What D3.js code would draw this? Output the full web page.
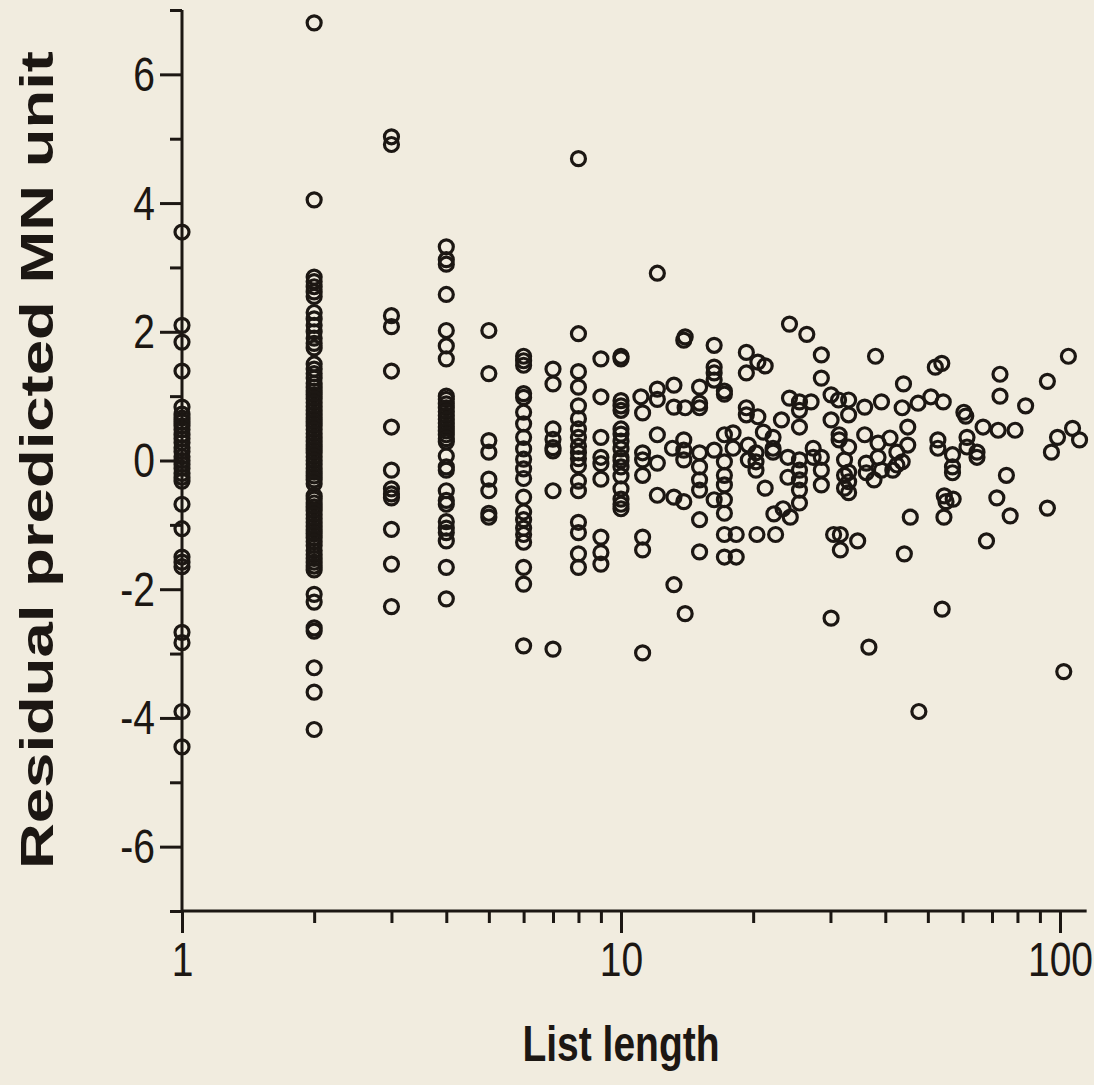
<!DOCTYPE html>
<html>
<head>
<meta charset="utf-8">
<script src="https://cdn.jsdelivr.net/npm/d3@7.9.0/dist/d3.min.js"></script>
<style>
  html, body { margin: 0; padding: 0; background: #f1ecdf; }
  svg { display: block; }
  text { font-family: "Liberation Sans", Arial, Helvetica, sans-serif; fill: #1c1713; }
</style>
</head>
<body>
<svg id="chart" width="1094" height="1085"></svg>
<script>
// ---------- data: residuals per short list length (1..10) ----------
const res1 = [3.55, 2.1, 1.84, 1.39, 0.83, 0.72, 0.66, 0.6, 0.54, 0.48, 0.4, 0.34, 0.28, 0.2, 0.14,
  0.06, 0.0, -0.06, -0.12, -0.2, -0.26, -0.32, -0.68, -1.06, -1.5, -1.58, -1.65, -2.67, -2.83, -3.9, -4.45];
const res2 = [6.8, 4.05, 2.85, 2.78, 2.7, 2.62, 2.55, 2.3, 2.2, 2.1, 2.0, 1.9, 1.82, 1.75, 1.5, 1.42,
  1.35, 1.28, 1.2, 1.14, 1.08, 1.02, 0.96, 0.9, 0.84, 0.78, 0.72, 0.66, 0.6, 0.54, 0.48, 0.42, 0.36,
  0.3, 0.24, 0.18, 0.12, 0.06, 0.0, -0.06, -0.12, -0.18, -0.24, -0.3, -0.36, -0.55, -0.6, -0.66,
  -0.72, -0.78, -0.84, -0.9, -0.96, -1.02, -1.08, -1.14, -1.2, -1.26, -1.32, -1.4, -1.46, -1.52,
  -1.58, -1.64, -1.7, -2.08, -2.2, -2.6, -2.65, -3.22, -3.6, -4.18];
const res3 = [5.03, 4.91, 2.25, 2.08, 1.39, 0.52, -0.15, -0.44, -0.52, -0.58, -1.07, -1.61, -2.27];
const res4 = [3.32, 3.12, 3.05, 2.58, 2.02, 1.78, 1.58, 1.0, 0.95, 0.88, 0.82, 0.76, 0.7, 0.64,
  0.58, 0.52, 0.46, 0.4, 0.34, 0.29, 0.07, -0.1, -0.15, -0.47, -0.62, -0.68, -0.95, -1.05, -1.12,
  -1.25, -1.66, -2.15];
const res5 = [2.02, 1.35, 0.31, 0.13, -0.29, -0.47, -0.82, -0.88];
const res6 = [1.62, 1.55, 1.48, 1.04, 0.98, 0.75, 0.57, 0.36, 0.18, 0.02, -0.13, -0.28, -0.57,
  -0.8, -0.92, -1.05, -1.15, -1.27, -1.66, -1.92, -2.88];
const res7 = [1.42, 1.19, 0.49, 0.33, 0.2, 0.15, -0.47, -2.93];
const res8 = [4.69, 1.97, 1.38, 1.14, 0.85, 0.65, 0.49, 0.36, 0.22, 0.12, 0.03, -0.08, -0.32,
  -0.47, -0.96, -1.12, -1.45, -1.66];
const res9 = [1.58, 0.99, 0.36, 0.05, -0.05, -0.29, -1.19, -1.43, -1.61];
const res10 = [1.62, 1.58, 0.93, 0.85, 0.78, 0.49, 0.41, 0.3, 0.18, 0.05, 0.0, -0.1, -0.24,
  -0.44, -0.6, -0.68, -0.75];
const shortColumns = [res1, res2, res3, res4, res5, res6, res7, res8, res9, res10];

// ---------- data: longer lists (length, residual) ----------
const longLength = [
  12.1, 13.9, 14.0, 11.1, 12.1, 13.2, 15.1, 11.2, 12.1, 13.2, 14.0, 15.1, 15.1, 11.2, 11.2, 12.1,
  12.1, 13.1, 13.9, 13.9, 13.9, 15.1, 15.1, 15.1, 15.1, 11.2, 12.1, 13.2, 13.9, 15.1, 11.2, 11.2,
  15.1, 13.2, 14.0, 11.2,
  16.3, 16.3, 16.3, 16.3, 17.2, 17.2, 16.3, 16.3, 17.2, 17.2, 17.2, 17.2, 17.2, 17.2, 17.2, 17.2,
  18.0, 18.0, 18.3, 18.3, 19.3, 19.3, 19.3, 19.3, 19.5, 19.5, 20.5, 21.3, 20.5, 20.3, 20.3, 20.3,
  20.4, 21.1, 21.3, 22.2, 22.2, 22.2, 22.5, 22.3, 23.2, 23.4, 24.0, 24.0, 24.2, 24.2, 24.3, 25.5,
  25.5, 25.5, 25.5, 25.5, 25.5, 25.5, 25.5, 26.5, 27.1, 27.4, 27.4, 28.6, 28.6, 28.6, 28.6, 28.6,
  30.1, 30.1, 30.5, 31.6, 31.6, 30.1, 31.3, 31.4, 31.4, 32.3, 32.3, 32.3, 34.6,
  38.0, 52.0, 53.8, 73.0, 73.0, 93.6, 104.5, 44.0, 83.5, 33.0, 35.9, 39.2, 43.7, 47.5, 50.8, 54.2,
  60.4, 61.0, 66.8, 72.3, 79.0, 98.7, 106.8, 110.8, 95.6, 33.0, 45.0, 45.0, 43.7, 35.9, 38.5, 38.5,
  41.0, 42.5, 42.5, 36.2, 36.2, 39.2, 37.7, 41.6, 33.0, 33.0, 33.0, 33.0, 52.7, 52.7, 56.9, 56.9,
  56.9, 61.4, 61.4, 64.7, 64.7, 75.5, 54.5, 57.1, 55.0, 54.4, 71.8, 77.0, 93.6, 45.6, 68.0, 44.2,
  53.9, 36.7, 47.7, 102.0
];
const longResidual = [
  2.91, 1.87, 1.92, 0.99, 1.11, 1.17, 1.14, 0.74, 0.95, 0.83, 0.82, 0.89, 0.82, 0.12, 0.01, 0.4,
  -0.04, 0.19, 0.32, 0.16, 0.01, 0.12, -0.1, -0.3, -0.46, -0.23, -0.54, -0.57, -0.64, -0.92, -1.19, -1.39,
  -1.42, -1.93, -2.38, -2.99,
  1.79, 1.45, 1.36, 1.25, 1.08, 1.03, 0.16, -0.61, 0.4, -0.02, -0.23, -0.38, -0.61, -0.82, -1.15, -1.5,
  0.43, 0.19, -1.15, -1.5, 1.68, 1.36, 0.82, 0.71, 0.24, 0.01, 1.53, 1.47, 0.68, 0.12, -0.02, -0.15,
  -1.15, 0.44, -0.43, 0.36, 0.19, 0.13, -1.15, -0.83, 0.63, -0.75, 0.05, -0.26, 2.12, 0.97, -0.88, 0.91,
  0.78, 0.52, 0.01, -0.15, -0.3, -0.46, -0.66, 1.96, 0.91, 0.19, 0.05, 1.64, 1.28, 0.05, -0.15, -0.38,
  1.02, 0.63, -1.15, -1.15, -1.39, -2.45, 0.94, 0.4, 0.32, 0.01, -0.23, -0.43, -1.25,
  1.62, 1.45, 1.51, 1.34, 1.0, 1.23, 1.62, 1.19, 0.85, 0.94, 0.83, 0.91, 0.82, 0.89, 0.99, 0.91,
  0.75, 0.69, 0.52, 0.47, 0.47, 0.36, 0.5, 0.32, 0.13, 0.71, 0.52, 0.24, -0.02, 0.4, 0.27, 0.05,
  0.35, 0.13, -0.07, -0.04, -0.19, -0.15, -0.3, -0.15, 0.21, -0.18, -0.33, -0.5, 0.32, 0.19, 0.09, -0.1,
  -0.19, 0.36, 0.21, 0.13, 0.05, -0.23, -0.55, -0.6, -0.64, -0.88, -0.58, -0.86, -0.74, -0.88, -1.25, -1.45,
  -2.31, -2.9, -3.9, -3.28
];

// ---------- axis ticks ----------
const yMajorTicks = [-6, -4, -2, 0, 2, 4, 6];
const yMinorTicks = [-7, -5, -3, -1, 1, 3, 5, 7];
const xMajorTicks = [1, 10, 100];
const xMinorTicks = [2, 3, 4, 5, 6, 7, 8, 9, 20, 30, 40, 50, 60, 70, 80, 90];

const xTitle = "List length";
const yTitle = "Residual predicted MN unit";

// ---------- build points ----------
const points = [];
shortColumns.forEach((col, i) => col.forEach(v => points.push({ len: i + 1, res: v })));
longLength.forEach((len, i) => points.push({ len, res: longResidual[i] }));

const ink = "#1c1713";
const stretch = 1.22;   // the scan is a bit taller than wide
const svg = d3.select("#chart");

const x = d3.scaleLog().domain([1, 115]).range([182, 182 + 439 * Math.log10(115)]);
const y = d3.scaleLinear().domain([-7, 7]).range([911, 10]);

// points
svg.append("g")
  .selectAll("circle")
  .data(points)
  .join("circle")
  .attr("cx", d => x(d.len))
  .attr("cy", d => y(d.res))
  .attr("r", 7)
  .attr("fill", "none")
  .attr("stroke", ink)
  .attr("stroke-width", 3.2);

// y axis
const yMinor = svg.append("g").attr("transform", `translate(${x(1)},0)`)
  .call(d3.axisLeft(y).tickValues(yMinorTicks).tickSize(12).tickFormat(""));
const yMajor = svg.append("g").attr("transform", `translate(${x(1)},0)`)
  .call(d3.axisLeft(y).tickValues(yMajorTicks).tickSize(22).tickPadding(5).tickFormat(d3.format("d")));

// x axis
const xMinor = svg.append("g").attr("transform", `translate(0,${y(-7)})`)
  .call(d3.axisBottom(x).tickValues(xMinorTicks).tickSize(12).tickFormat(""));
const xMajor = svg.append("g").attr("transform", `translate(0,${y(-7)})`)
  .call(d3.axisBottom(x).tickValues(xMajorTicks).tickSize(22).tickFormat(d3.format("d")));

[yMinor, yMajor, xMinor, xMajor].forEach(g => {
  g.select(".domain").remove();
  g.selectAll(".tick line").attr("stroke", ink).attr("stroke-width", 3);
  g.selectAll(".tick text")
    .attr("fill", ink)
    .style("font-size", "39px");
});

// tick labels, stretched vertically like the scan
yMajor.selectAll(".tick text")
  .text(d => d < 0 ? "-" + Math.abs(d) : d)
  .attr("dy", null)
  .attr("transform", `translate(0,16) scale(1,${stretch})`);
xMajor.selectAll(".tick text")
  .attr("dy", null)
  .attr("y", 0)
  .attr("transform", `translate(0,65) scale(1,${stretch})`);

// axis lines
svg.append("line")
  .attr("x1", x(1)).attr("x2", x(1))
  .attr("y1", y(7)).attr("y2", y(-7))
  .attr("stroke", ink).attr("stroke-width", 3);
svg.append("line")
  .attr("x1", x(1)).attr("x2", x(115))
  .attr("y1", y(-7)).attr("y2", y(-7))
  .attr("stroke", ink).attr("stroke-width", 3);

// titles
svg.append("text")
  .attr("transform", `translate(621,1061) scale(1,${stretch + 0.05})`)
  .attr("text-anchor", "middle")
  .style("font-size", "39px").style("font-weight", "bold")
  .text(xTitle);

svg.append("text")
  .attr("transform", "translate(53,460) rotate(-90)")
  .attr("text-anchor", "middle")
  .attr("textLength", 818)
  .attr("lengthAdjust", "spacingAndGlyphs")
  .style("font-size", "46px").style("font-weight", "bold")
  .text(yTitle);
</script>
</body>
</html>
